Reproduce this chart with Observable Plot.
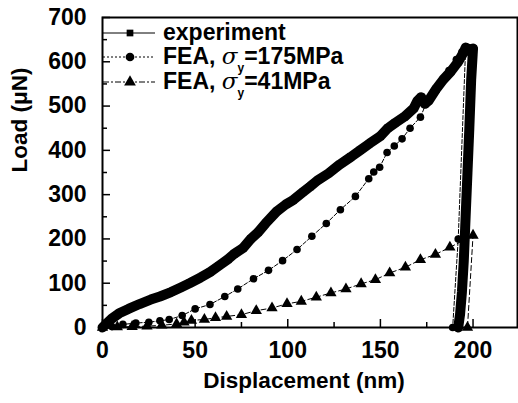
<!DOCTYPE html>
<html><head><meta charset="utf-8">
<script src="https://cdn.jsdelivr.net/npm/d3@7"></script>
<script src="https://cdn.jsdelivr.net/npm/@observablehq/plot@0.6"></script>
<style>
body{margin:0;background:#fff}
#wrap{position:relative;width:518px;height:403px}
</style></head><body><div id="wrap"></div>
<script>
// ---- data ----
const expX = [0,2,5,9,14,20,26,31,37,42,47,53,58,63,68,71,76,80,84,88,94,99,103,108,112,116,122,128,134,139,144,150,154,158,163,168,170,172,174,176,180,184,188,192,195,196,198,200,199,198,197,196,195,194,193,192];
const expY = [0,8,20,32,42,53,63,70,80,90,100,113,125,140,155,166,180,200,215,235,262,278,288,305,318,332,348,368,385,400,415,432,450,462,476,495,512,520,505,512,538,560,578,600,622,632,628,630,560,450,350,250,150,80,30,0];

const fea175X = [0,5,11,18,25,31,36,43,50,58,66,73,81.5,89.6,97.2,105,113,120.8,128.4,136.5,143.7,146.4,149.6,153.6,157.5,161.7,166,171.6,175,179,183,187,191,194,196,192,189];
const fea175Y = [0,2,7,10,12,15,18,27,42,52,70,87,110,129,151,176,206,235,266,296,336,351,362,395,410,426,450,475,509,530,555,580,605,622,630,200,0];

const fea41X = [0,8,16,24,32,40,44,48,55,61,67,75,83,91.5,99.6,107.3,115.4,123.3,131.4,139.6,147.3,155,163.5,171.6,179.7,187.5,200,197];
const fea41Y = [0,1,2,3,5,8,12,16,18,22,25,29,38,44,53.5,59,68.5,78,87,98.5,108,123,136,153,165,181,208,0];

const xTicks = [0,50,100,150,200];
const xMinor = [25,75,125,175];
const yTicks = [0,100,200,300,400,500,600,700];
const yMinor = [50,150,250,350,450,550,650];

const seriesNames = ["experiment","FEA, σ_y=175MPa","FEA, σ_y=41MPa"];
const xLabel = "Displacement (nm)";
const yLabel = "Load (μN)";

// ---- build ----
const W = 518, H = 403, mL = 102, mR = 1, mT = 17, mB = 76;
const plotW = W - mL - mR, plotH = H - mT - mB;
const zip = (xs, ys) => xs.map((x, i) => ({x, y: ys[i]}));
const exp = zip(expX, expY), f175 = zip(fea175X, fea175Y), f41 = zip(fea41X, fea41Y);

const chart = Plot.plot({
  width: W, height: H,
  marginLeft: mL, marginRight: mR, marginTop: mT, marginBottom: mB,
  style: {fontFamily: "'Liberation Sans', Arial, sans-serif", fontWeight: "bold", fontSize: "22px", background: "#fff", color: "#000"},
  x: {domain: [0, 224]},
  y: {domain: [0, 700]},
  marks: [
    Plot.line(f41, {x: "x", y: "y", stroke: "#000", strokeWidth: 1, strokeDasharray: "5,3"}),
    Plot.dot(f41, {x: "x", y: "y", symbol: "triangle", r: 4.2, fill: "#000", stroke: "none"}),
    Plot.line(f175, {x: "x", y: "y", stroke: "#000", strokeWidth: 1, strokeDasharray: "4,2"}),
    Plot.dot(f175, {x: "x", y: "y", symbol: "circle", r: 3.8, fill: "#000", stroke: "none"}),
    Plot.line(exp, {x: "x", y: "y", stroke: "#000", strokeWidth: 10, strokeLinejoin: "round", strokeLinecap: "round"}),
    Plot.dot(exp, {x: "x", y: "y", symbol: "square", r: 4, fill: "#000", stroke: "none"}),
    Plot.ruleX(xTicks, {stroke: "#000", strokeWidth: 1.5, insetTop: plotH - 8}),
    Plot.ruleX(xMinor, {stroke: "#000", strokeWidth: 1.5, insetTop: plotH - 5}),
    Plot.ruleY(yTicks, {stroke: "#000", strokeWidth: 1.5, insetRight: plotW - 8}),
    Plot.ruleY(yMinor, {stroke: "#000", strokeWidth: 1.5, insetRight: plotW - 5}),
    Plot.frame({stroke: "#000", strokeWidth: 2}),
    Plot.axisX(xTicks, {tickSize: 0, tickPadding: 14, label: null, fontSize: 23}),
    Plot.axisY(yTicks, {tickSize: 0, tickPadding: 16, label: null, fontSize: 23}),
    Plot.text([yLabel], {text: d => d, frameAnchor: "left", rotate: -90, dx: -83, fontSize: 22.5}),
    Plot.text([xLabel], {text: d => d, frameAnchor: "bottom", dy: 60, dx: -6, fontSize: 22.5})
  ]
});
document.getElementById("wrap").appendChild(chart);

// ---- legend overlay ----
const leg = d3.select("#wrap").append("svg")
  .attr("width", W).attr("height", H)
  .style("position", "absolute").style("left", "0px").style("top", "0px")
  .style("pointer-events", "none");
const rowY = [33, 57, 82];
const dashes = [null, "2,2", "6,2,2,2"];
const syms = [d3.symbolSquare, d3.symbolCircle, d3.symbolTriangle];
const symSize = [45, 60, 60];
seriesNames.forEach((name, i) => {
  const g = leg.append("g");
  g.append("line").attr("x1", 103).attr("x2", 155).attr("y1", rowY[i]).attr("y2", rowY[i])
    .attr("stroke", "#000").attr("stroke-width", 1).attr("stroke-dasharray", dashes[i]);
  g.append("path").attr("d", d3.symbol(syms[i], symSize[i])()).attr("transform", `translate(130,${rowY[i]})`).attr("fill", "#000");
  const t = g.append("text").attr("x", 163).attr("y", rowY[i] + 7)
    .style("font-family", "'Liberation Sans', Arial, sans-serif").style("font-weight", "bold").style("font-size", "23px");
  const parts = name.split("σ_y");
  if (parts.length === 1) { t.text(name); }
  else {
    t.append("tspan").text(parts[0]);
    t.append("tspan").text("σ").style("font-style", "italic").style("font-weight", "normal").style("font-family", "'DejaVu Serif', serif");
    t.append("tspan").text("y").attr("dy", 8).style("font-size", "12px");
    t.append("tspan").text(parts[1]).attr("dy", -8);
  }
});
</script></body></html>
